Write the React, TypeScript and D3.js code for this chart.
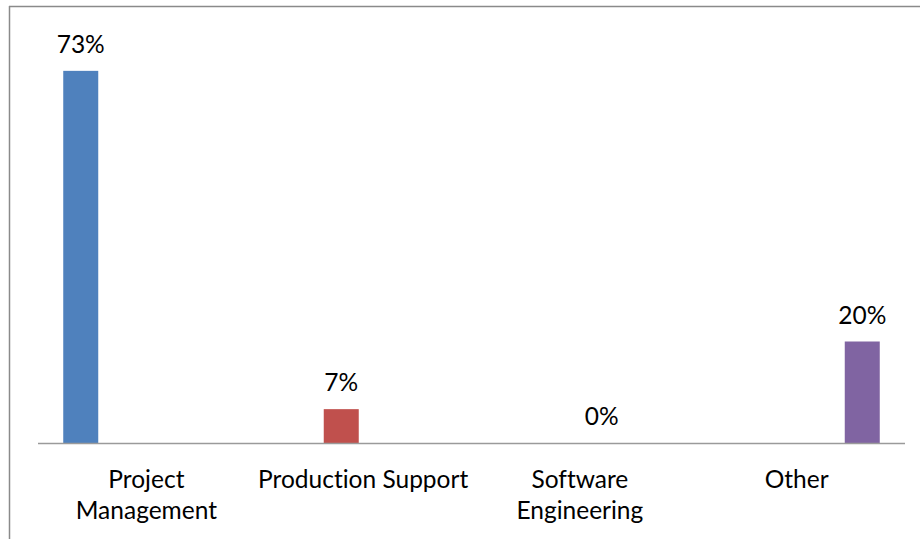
import React from "react";
import * as d3 from "d3";

const categories = ["Project Management", "Production Support", "Software Engineering", "Other"];
const categoryLines = [["Project", "Management"], ["Production Support"], ["Software", "Engineering"], ["Other"]];
const seriesNames = ["Project Management", "Production Support", "Software Engineering", "Other"];
const seriesValues = [73.33, 6.67, 0, 20];
const valueLabels = ["73%", "7%", "0%", "20%"];
const seriesColors = ["#4f81bd", "#c0504d", "#9bbb59", "#8064a2"];

const W = 920;
const H = 539;
const FONT = "Lato, 'Open Sans', sans-serif";

export default function App() {
  const x0 = d3.scaleBand<string>().domain(categories).range([38, 905]).padding(0);
  const x1 = d3
    .scaleBand<string>()
    .domain(seriesNames)
    .range([0, x0.bandwidth()])
    .paddingInner(0.2)
    .paddingOuter(0.577);
  const y = d3.scaleLinear().domain([0, 80]).range([443, 37]);

  return (
    <svg
      width={W}
      height={H}
      style={{ position: "absolute", left: 0, top: 0, background: "#fff", fontVariantLigatures: "none" }}
      fontFamily={FONT}
    >
      <rect x={0} y={0} width={W} height={H} fill="#fff" />
      {/* chart frame (extends beyond the picture on right and bottom) */}
      <line x1={9.5} y1={6} x2={9.5} y2={H} stroke="#8a8a8a" strokeWidth={1.5} />
      <line x1={9} y1={6.5} x2={W} y2={6.5} stroke="#8a8a8a" strokeWidth={1.5} />

      {categories.map((c, i) => {
        const s = seriesNames[i];
        const v = seriesValues[i];
        const bx = (x0(c) ?? 0) + (x1(s) ?? 0);
        const bw = x1.bandwidth();
        const top = y(v);
        return (
          <g key={c}>
            {v > 0 && (
              <rect x={bx} y={top} width={bw} height={y(0) - top} fill={seriesColors[i]} />
            )}
            <text
              x={bx + bw / 2}
              y={top - 18}
              textAnchor="middle"
              fontSize={24.5}
              fill="#000"
            >
              {valueLabels[i]}
            </text>
          </g>
        );
      })}

      <line x1={38} y1={443.5} x2={905} y2={443.5} stroke="#9a9a9a" strokeWidth={1.5} />

      {categories.map((c, i) => {
        const cx = (x0(c) ?? 0) + x0.bandwidth() / 2;
        return (
          <text key={c} x={cx} textAnchor="middle" fontSize={24.5} fill="#000">
            {categoryLines[i].map((ln, j) => (
              <tspan key={j} x={cx} y={488 + j * 30.5}>
                {ln}
              </tspan>
            ))}
          </text>
        );
      })}
    </svg>
  );
}
